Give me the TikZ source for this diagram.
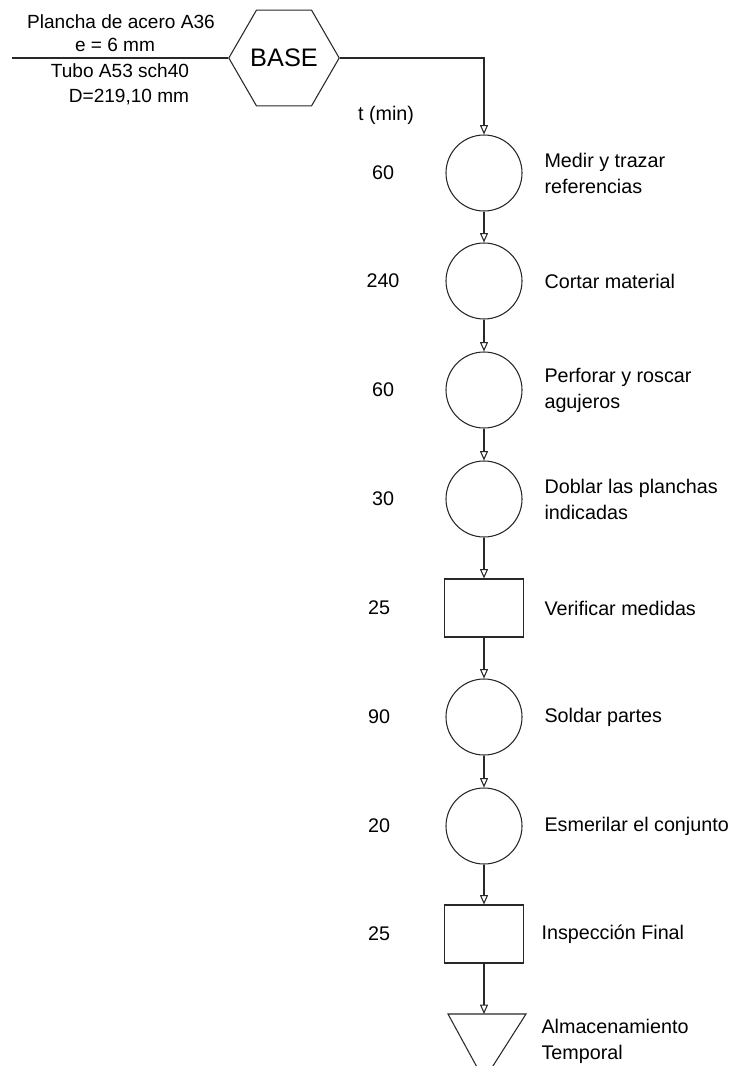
\documentclass[tikz,border=0pt]{standalone}
\usepackage{fontspec}
\setmainfont{Liberation Sans}
\usetikzlibrary{shapes.geometric,arrows.meta,positioning}
\begin{document}
\begin{tikzpicture}[x=0.75pt,y=-0.75pt,
  line width=0.8pt, draw={rgb,255:red,40;green,40;blue,40},
  every node/.style={font=\fontsize{14.8}{19.5}\selectfont, inner sep=0pt},
  matl/.style={font=\fontsize{14.3}{17}\selectfont},
  op/.style={circle, draw, minimum size=57pt},
  insp/.style={rectangle, draw, minimum width=59pt, minimum height=43.5pt},
  flow/.style={-{Triangle[open,width=6pt,length=7pt]}},
  tlab/.style={anchor=center},
  dlab/.style={anchor=west, align=left}]
\useasboundingbox (0,0) rectangle (734,1066);
\clip (0,0) rectangle (734,1066);

% raw material inputs and base part
\node[regular polygon, regular polygon sides=6, draw, minimum size=81pt,
      font=\fontsize{19}{22}\selectfont] (base) at (284,58) {BASE};
\coordinate (in) at (12,58);
\draw (in) -- (base.corner 3);
\node[matl] (m1) at (121,22) {Plancha de acero A36};
\node[matl] (m2) at (115,45) {e = 6 mm};
\node[matl] (m3) at (120,71) {Tubo A53 sch40};
\node[matl] (m4) at (129,97) {D=219,10 mm};
\node (tmin) at (386,115) {t (min)};

% process chart
\node[op]   (s1) at (484,173) {};
\node[op]   (s2) at (484,281) {};
\node[op]   (s3) at (484,390) {};
\node[op]   (s4) at (484,499) {};
\node[insp] (s5) at (484,608) {};
\node[op]   (s6) at (484,717) {};
\node[op]   (s7) at (484,826) {};
\node[insp] (s8) at (484,934) {};
\coordinate (s9) at (484,1014);
\draw (448,1014) -- (526,1014) -- (484,1080) -- cycle;

\coordinate (bend) at (484,58);
\draw[flow] (base.corner 6) -- (bend) -- (s1);
\draw[flow] (s1) -- (s2);
\draw[flow] (s2) -- (s3);
\draw[flow] (s3) -- (s4);
\draw[flow] (s4) -- (s5);
\draw[flow] (s5) -- (s6);
\draw[flow] (s6) -- (s7);
\draw[flow] (s7) -- (s8);
\draw[flow] (s8) -- (s9);

% times
\node[tlab] (t1) at (383,173) {60};
\node[tlab] (t2) at (383,281) {240};
\node[tlab] (t3) at (383,390) {60};
\node[tlab] (t4) at (383,499) {30};
\node[tlab] (t5) at (379,608) {25};
\node[tlab] (t6) at (379,717) {90};
\node[tlab] (t7) at (379,826) {20};
\node[tlab] (t8) at (379,934) {25};

% activities
\node[dlab] (d1) at (544,173) {Medir y trazar\\referencias};
\node[dlab] (d2) at (544,281) {Cortar material};
\node[dlab] (d3) at (544,390) {Perforar y roscar\\agujeros};
\node[dlab] (d4) at (544,499) {Doblar las planchas\\indicadas};
\node[dlab] (d5) at (544,608) {Verificar medidas};
\node[dlab] (d6) at (544,717) {Soldar partes};
\node[dlab] (d7) at (544,826) {Esmerilar el conjunto};
\node[dlab] (d8) at (541,934) {Inspección Final};
\node[dlab] (d9) at (541,1041) {Almacenamiento\\Temporal};
\end{tikzpicture}
\end{document}
